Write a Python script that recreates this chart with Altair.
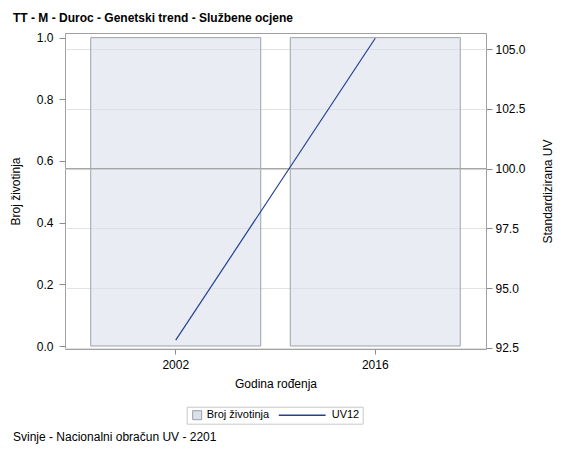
import altair as alt
import pandas as pd

# ---- data ----
years = ["2002", "2016"]
broj = [1, 1]
uv12 = [92.82, 105.45]
series_bar = ["Broj životinja"]
series_line = ["UV12"]
ref_value = [100]
footnote = ["Svinje - Nacionalni obračun UV - 2201"]

left_ticks = [0.0, 0.2, 0.4, 0.6, 0.8, 1.0]
right_ticks = [92.5, 95.0, 97.5, 100.0, 102.5, 105.0]

FONT = "Liberation Sans"
BAR_FILL = "#dae1eb"      # drawn at 0.6 opacity -> #e9edf3 on white
BAR_STROKE = "#9ea2a8"
LINE_COL = "#223e96"

bar_df = pd.DataFrame({"year": years, "count": broj, "series": series_bar * len(years)})
line_df = pd.DataFrame({"year": years, "uv": uv12, "series": series_line * len(years)})
ref_df = pd.DataFrame({"ref": ref_value})
foot_df = pd.DataFrame({"txt": footnote})

# legend for the bars (no frame), sits inside the line legend's frame
bar_legend = alt.Legend(
    orient="none",
    legendX=124.7,
    legendY=376.7,
    direction="horizontal",
    title=None,
    padding=0,
    labelFont=FONT,
    labelFontSize=11,
    labelColor="#000000",
    labelOffset=4,
    symbolType="square",
    symbolSize=81,
    symbolOffset=2,
    symbolFillColor="#e9edf3",
    symbolStrokeColor="#9a9ea6",
    symbolStrokeWidth=1,
    symbolOpacity=1,
)

# legend for the line: carries the frame of the whole legend box
line_legend = alt.Legend(
    orient="none",
    legendX=121.7,
    legendY=373.7,
    direction="horizontal",
    title=None,
    strokeColor="#c8c8c8",
    padding=3,
    labelFont=FONT,
    labelFontSize=11,
    labelColor="#000000",
    labelOffset=24,
    symbolType="M-5.2,0H5.2",
    symbolSize=81,
    symbolOffset=107,
    symbolStrokeWidth=1.5,
    symbolFillColor="transparent",
)

x_enc = alt.X(
    "year:N",
    scale=alt.Scale(type="band", paddingInner=0.148, paddingOuter=0.129),
    axis=alt.Axis(
        title="Godina rođenja",
        labelAngle=0,
        tickSize=5,
        labelPadding=5,
        titlePadding=8,
        domain=False,
        grid=False,
        tickColor="#8c8c8c",
    ),
)

bars = alt.Chart(bar_df).mark_bar(
    stroke=BAR_STROKE, strokeWidth=1, fillOpacity=0.6, strokeOpacity=1
).encode(
    x=x_enc,
    y=alt.Y(
        "count:Q",
        scale=alt.Scale(domain=[-0.0097, 1.015], nice=False, zero=False),
        axis=alt.Axis(
            title="Broj životinja",
            values=left_ticks,
            format=".1f",
            grid=False,
            domain=False,
            tickSize=6,
            labelPadding=6,
            titlePadding=14,
            tickColor="#8c8c8c",
        ),
    ),
    y2=alt.datum(0),
    fill=alt.Fill("series:N", scale=alt.Scale(domain=series_bar, range=[BAR_FILL]), legend=bar_legend),
)

right_scale = alt.Scale(domain=[92.45, 105.67], nice=False, zero=False)

ref = alt.Chart(ref_df).mark_rule(color="#a6a6a6", strokeWidth=1.3).encode(
    y=alt.Y("ref:Q", scale=right_scale, title="Standardizirana UV"),
)

line = alt.Chart(line_df).mark_line(strokeWidth=1.2).encode(
    x=alt.X("year:N", bandPosition=0.5),
    y=alt.Y(
        "uv:Q",
        scale=right_scale,
        axis=alt.Axis(
            title="Standardizirana UV",
            orient="right",
            values=right_ticks,
            format=".1f",
            grid=True,
            gridColor="#e2e2e2",
            domain=False,
            tickSize=6,
            labelPadding=3,
            titlePadding=17,
            titleAngle=270,
            titleBaseline="top",
            tickColor="#8c8c8c",
        ),
    ),
    stroke=alt.Stroke("series:N", scale=alt.Scale(domain=series_line, range=[LINE_COL]), legend=line_legend),
)

foot = alt.Chart(foot_df).mark_text(
    align="left", baseline="alphabetic", font=FONT, fontSize=12, color="#000000"
).encode(
    text="txt:N",
    x=alt.value(-52),
    y=alt.value(408),
)

right_layer = alt.layer(ref, line)

chart = (
    alt.layer(bars, right_layer, foot)
    .resolve_scale(y="independent")
    .properties(
        width=421,
        height=316,
        padding={"left": 57, "top": 25, "right": 70, "bottom": 97},
        autosize=alt.AutoSizeParams(type="none"),
        background="white",
        title=alt.TitleParams(
            "TT - M - Duroc - Genetski trend - Službene ocjene",
            anchor="start",
            frame="group",
            dx=-52,
            offset=7,
            font=FONT,
            fontSize=12,
            fontWeight="bold",
            color="#000000",
        ),
    )
    .configure_view(stroke="#a0a0a0", strokeWidth=1)
    .configure_axis(
        labelFont=FONT,
        labelFontSize=12,
        labelColor="#000000",
        titleFont=FONT,
        titleFontSize=12,
        titleFontWeight="normal",
        titleColor="#000000",
    )
)

chart.save("out.html", embed_options={"renderer": "svg", "actions": False})
